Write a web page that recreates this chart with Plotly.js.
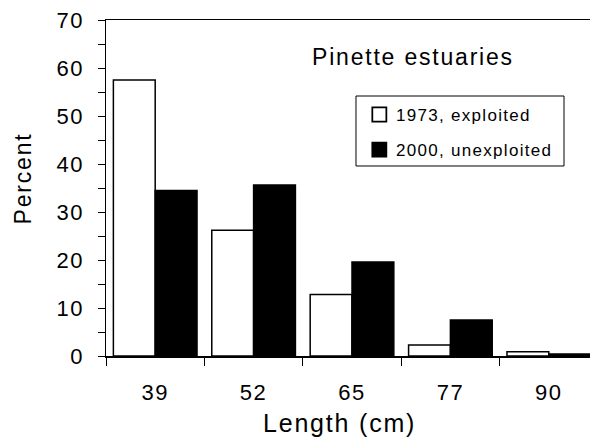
<!DOCTYPE html>
<html><head><meta charset="utf-8">
<script src="https://cdn.plot.ly/plotly-3.0.1.min.js"></script>
<style>
html,body{margin:0;padding:0;overflow:hidden;background:#fff}
#chart{width:600px;height:440px}
.xtick text,.ytick text{letter-spacing:1.5px}
.legendtext{letter-spacing:1.3px}
.annotation-text{letter-spacing:1.8px}
.legendpoints path{scale:1.17}
</style>
</head><body><div id="chart"></div>
<script>
const categories = ["39", "52", "65", "77", "90"];
const exploited1973 = [57.5, 26.2, 12.8, 2.3, 0.9];
const unexploited2000 = [34.5, 35.6, 19.6, 7.5, 0.4];
const seriesNames = ["1973, exploited", "2000, unexploited"];
const yTicks = [0, 10, 20, 30, 40, 50, 60, 70];
const chartTitle = "Pinette estuaries";
const xTitle = "Length (cm)";
const yTitle = "Percent";

const font = "Arial, 'Liberation Sans', sans-serif";
const traces = [
  {type: "bar", x: categories, y: exploited1973, name: seriesNames[0], legendgroup: "a",
   marker: {color: "#ffffff", line: {color: "#000000", width: 1.5}}},
  {type: "bar", x: categories, y: unexploited2000, name: seriesNames[1], legendgroup: "b",
   marker: {color: "#000000", line: {color: "#000000", width: 1.5}}}
];
const layout = {
  width: 600, height: 440,
  margin: {l: 106, r: 2, t: 20, b: 84},
  paper_bgcolor: "#fff", plot_bgcolor: "#fff",
  font: {family: font, color: "#000", size: 16},
  barmode: "group", bargap: 0.15, bargroupgap: 0,
  showlegend: true,
  legend: {x: 0.508, y: 0.771, xanchor: "left", yanchor: "top",
    borderwidth: 0, bgcolor: "rgba(0,0,0,0)",
    traceorder: "grouped", tracegroupgap: 10,
    font: {family: font, size: 17, color: "#000"}},
  shapes: [{type: "rect", xref: "paper", yref: "paper",
    x0: 0.5081, x1: 0.9309, y0: 0.5655, y1: 0.7738,
    line: {color: "#000", width: 1}, fillcolor: "rgba(0,0,0,0)", layer: "below"}],
  xaxis: {type: "category", range: [-0.5, 4.5], tickson: "boundaries",
    ticks: "outside", ticklen: 8, tickcolor: "#000", tickwidth: 1,
    showline: true, linecolor: "#000", linewidth: 1.5, mirror: true,
    showgrid: false, zeroline: false, ticklabelstandoff: 16,
    tickfont: {size: 22}},
  yaxis: {range: [0, 70], tickvals: yTicks, ticks: "outside", ticklen: 7,
    tickcolor: "#000", tickwidth: 1, showline: true, linecolor: "#000", linewidth: 1.5,
    showgrid: false, zeroline: false, tickfont: {size: 22}, ticklabelstandoff: 9,
    minor: {dtick: 5, ticks: "outside", ticklen: 7, tickcolor: "#000", showgrid: false}},
  annotations: [
    {text: chartTitle, xref: "paper", yref: "paper",
     x: 0.4146, y: 0.890, xanchor: "left", yanchor: "middle", showarrow: false,
     font: {family: font, size: 23, color: "#000"}},
    {text: xTitle, xref: "paper", yref: "paper",
     x: 0.4756, y: -0.199, xanchor: "center", yanchor: "middle", showarrow: false,
     font: {family: font, size: 25, color: "#000"}},
    {text: yTitle, xref: "paper", yref: "paper", textangle: -90,
     x: -0.1697, y: 0.527, xanchor: "center", yanchor: "middle", showarrow: false,
     font: {family: font, size: 23, color: "#000"}}
  ]
};
Plotly.newPlot("chart", traces, layout, {displayModeBar: false, staticPlot: true});
</script></body></html>
